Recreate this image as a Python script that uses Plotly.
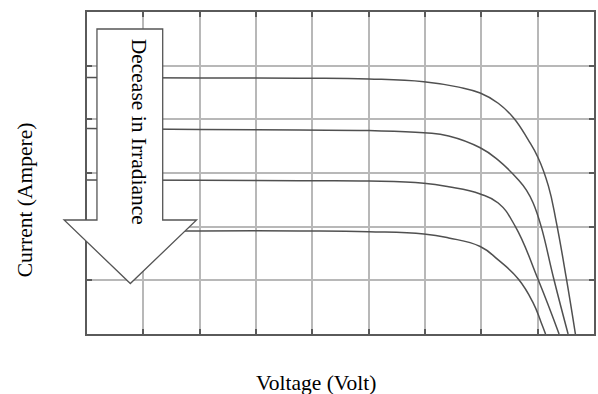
import plotly.graph_objects as go

# I-V curves of a PV module at four irradiance levels (arbitrary grid units)
v_curve1 = [0.0, 2.00, 3.77, 5.00, 5.98, 6.60, 6.98, 7.30, 7.57, 7.83, 8.01, 8.19, 8.33, 8.51, 8.67]
i_curve1 = [4.78, 4.77, 4.765, 4.752, 4.70, 4.60, 4.49, 4.30, 4.03, 3.62, 3.28, 2.76, 2.09, 1.03, 0.0]

v_curve2 = [0.0, 2.00, 3.77, 5.00, 5.98, 6.42, 6.98, 7.30, 7.66, 7.80, 7.92, 8.06, 8.29, 8.54]
i_curve2 = [3.83, 3.81, 3.80, 3.79, 3.75, 3.69, 3.47, 3.24, 2.87, 2.68, 2.44, 2.01, 1.01, 0.0]

v_curve3 = [0.0, 2.00, 3.77, 5.00, 5.98, 6.42, 6.98, 7.30, 7.60, 8.01, 8.38]
i_curve3 = [2.87, 2.864, 2.857, 2.851, 2.81, 2.745, 2.61, 2.44, 2.01, 1.01, 0.0]

v_curve4 = [0.0, 2.00, 3.77, 5.00, 5.98, 6.42, 6.98, 7.30, 7.66, 7.92, 8.06, 8.14]
i_curve4 = [1.92, 1.92, 1.92, 1.906, 1.863, 1.79, 1.63, 1.38, 1.02, 0.58, 0.22, 0.0]

curves = [(v_curve1, i_curve1), (v_curve2, i_curve2), (v_curve3, i_curve3), (v_curve4, i_curve4)]

x_range = [0, 9]
y_range = [0, 6]

W, H = 598, 394
ML, MR, MT, MB = 87, 2, 12, 60
PW, PH = W - ML - MR, H - MT - MB

def px(x):
    return (x - ML) / PW

def py(y):
    return (H - MB - y) / PH

fig = go.Figure()
for v, i in curves:
    fig.add_trace(go.Scatter(
        x=v, y=i, mode="lines",
        line=dict(color="#505050", width=1.5, shape="spline", smoothing=1.3),
        showlegend=False, hoverinfo="skip",
    ))

# Downward block arrow
arrow_pts = [(97, 29), (163, 29), (163, 220), (197, 220), (130.5, 283.5),
             (64, 220), (97, 220)]
path = "M " + " L ".join(f"{px(x):.5f},{py(y):.5f}" for x, y in arrow_pts) + " Z"
fig.add_shape(type="path", path=path, xref="paper", yref="paper",
              line=dict(color="#555555", width=1.3), fillcolor="white", layer="above")

serif = "Liberation Serif, Times New Roman, serif"
fig.add_annotation(text="Decease in Irradiance", textangle=90,
                   x=px(140), y=py(131.5), xref="paper", yref="paper",
                   showarrow=False, xanchor="center", yanchor="middle",
                   font=dict(family=serif, size=21.5, color="black"))
fig.add_annotation(text="Current (Ampere)", textangle=-90,
                   x=px(25), y=py(200), xref="paper", yref="paper",
                   showarrow=False, xanchor="center", yanchor="middle",
                   font=dict(family=serif, size=21.5, color="black"))
fig.add_annotation(text="Voltage (Volt)",
                   x=px(317), y=py(383), xref="paper", yref="paper",
                   showarrow=False, xanchor="center", yanchor="middle",
                   font=dict(family=serif, size=21.5, color="black"))

axis_style = dict(
    showgrid=True, gridcolor="#b8b8b8", gridwidth=1.5,
    showline=True, linecolor="#5a5a5a", linewidth=1.5, mirror="ticks",
    ticks="inside", ticklen=5, tickcolor="#5a5a5a", tickwidth=1.5,
    showticklabels=False, zeroline=False, fixedrange=True,
)
fig.update_xaxes(range=x_range, dtick=1, **axis_style)
fig.update_yaxes(range=y_range, dtick=1, **axis_style)

fig.update_layout(
    width=W, height=H,
    margin=dict(l=ML, r=MR, t=MT, b=MB),
    plot_bgcolor="white", paper_bgcolor="white",
)

fig.write_html("out.html")
